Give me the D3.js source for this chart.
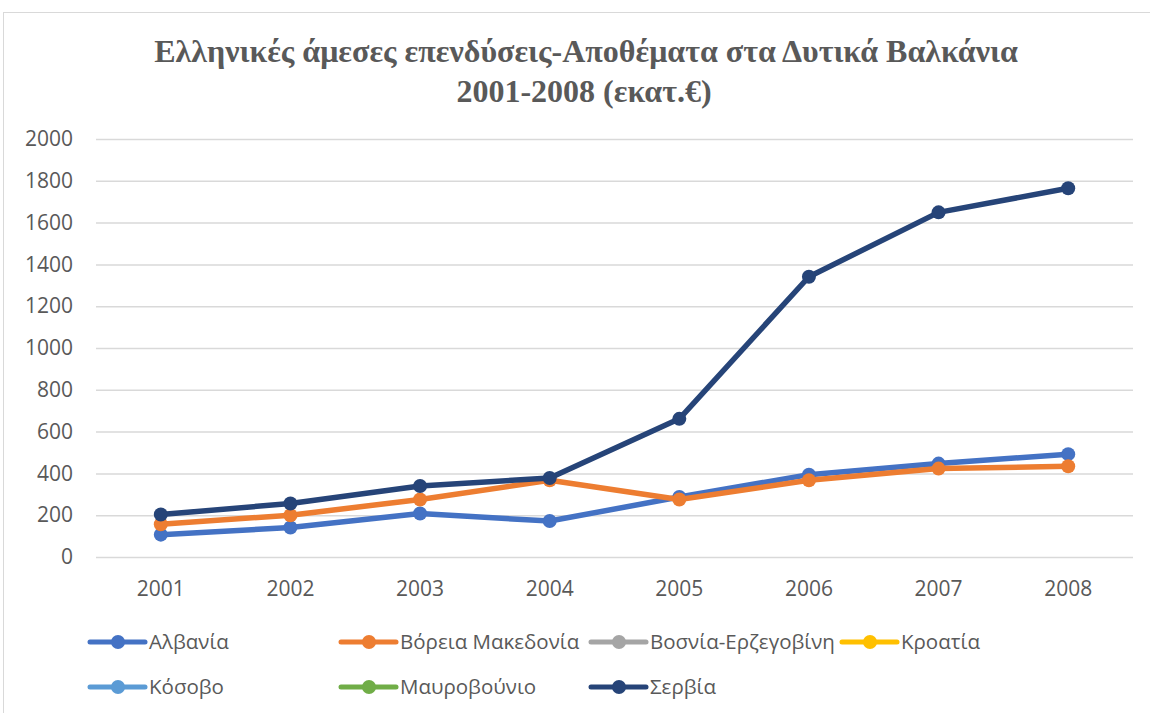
<!DOCTYPE html>
<html lang="el">
<head>
<meta charset="UTF-8">
<title>Ελληνικές άμεσες επενδύσεις</title>
<script src="https://cdn.jsdelivr.net/npm/d3@7"></script>
<style>
  body { margin: 0; background: #fff; }
  svg { display: block; }
  .tick text { font-family: "Open Sans", sans-serif; fill: #595959; }
</style>
</head>
<body>
<div id="chart"></div>
<script>
// data (εκατ. €)
const years = ["2001", "2002", "2003", "2004", "2005", "2006", "2007", "2008"];
const seriesNames = ["Αλβανία", "Βόρεια Μακεδονία", "Βοσνία-Ερζεγοβίνη", "Κροατία", "Κόσοβο", "Μαυροβούνιο", "Σερβία"];
const albania = [107, 141, 208, 172, 287, 394, 447, 492];
const northMacedonia = [157, 200, 275, 367, 275, 367, 423, 434];
const bosnia = [];
const croatia = [];
const kosovo = [];
const montenegro = [];
const serbia = [203, 256, 340, 378, 661, 1341, 1649, 1764];
const yTicks = [0, 200, 400, 600, 800, 1000, 1200, 1400, 1600, 1800, 2000];
const colors = ["#4472C4", "#ED7D31", "#A5A5A5", "#FFC000", "#5B9BD5", "#70AD47", "#264478"];

const W = 1150, H = 713;
const plot = {left: 96, right: 1133, top: 139, bottom: 557};

const svg = d3.select("#chart").append("svg")
  .attr("width", W).attr("height", H);

// chart frame
svg.append("rect")
  .attr("x", 3.5).attr("y", 12.5)
  .attr("width", W + 10).attr("height", H + 10)
  .attr("fill", "#fff").attr("stroke", "#d9d9d9");

// title
const title = svg.append("text")
  .attr("text-anchor", "middle")
  .attr("font-family", "'Liberation Serif', 'Times New Roman', serif")
  .attr("font-weight", "bold")
  .attr("font-size", 32)
  .attr("fill", "#595959");
title.append("tspan").attr("x", 586).attr("y", 62).text("Ελληνικές άμεσες επενδύσεις-Αποθέματα στα Δυτικά Βαλκάνια");
title.append("tspan").attr("x", 584).attr("y", 102).text("2001-2008 (εκατ.€)");

const x = d3.scaleBand().domain(years).range([plot.left, plot.right]).padding(0);
const y = d3.scaleLinear().domain([0, 2000]).range([plot.bottom, plot.top]);

// gridlines + y labels
const yAxis = svg.append("g")
  .attr("transform", `translate(${plot.left},0)`)
  .call(d3.axisLeft(y).tickValues(yTicks).tickFormat(d3.format("d"))
    .tickSize(-(plot.right - plot.left)).tickPadding(23));
yAxis.select(".domain").remove();
yAxis.selectAll(".tick line").attr("stroke", "#d9d9d9").attr("stroke-width", 1.5);
yAxis.selectAll(".tick text").attr("font-size", 21);

const xAxis = svg.append("g")
  .attr("transform", `translate(0,${plot.bottom})`)
  .call(d3.axisBottom(x).tickSize(0).tickPadding(24));
xAxis.select(".domain").remove();
xAxis.selectAll(".tick text").attr("font-size", 21);

// lines
const allSeries = [albania, northMacedonia, bosnia, croatia, kosovo, montenegro, serbia];
const line = d3.line()
  .x((d, i) => x(years[i]) + x.bandwidth() / 2)
  .y(d => y(d));

allSeries.forEach((vals, k) => {
  if (!vals.length) return;
  const g = svg.append("g");
  g.append("path")
    .datum(vals)
    .attr("fill", "none")
    .attr("stroke", colors[k])
    .attr("stroke-width", 5.5)
    .attr("stroke-linejoin", "round")
    .attr("d", line);
  g.selectAll("circle")
    .data(vals)
    .join("circle")
    .attr("cx", (d, i) => x(years[i]) + x.bandwidth() / 2)
    .attr("cy", d => y(d))
    .attr("r", 7)
    .attr("fill", colors[k]);
});

// legend
const legCols = [90, 341, 591, 842];
const legRows = [642, 687];
const leg = svg.append("g");
seriesNames.forEach((name, i) => {
  const lx = legCols[i % 4], ly = legRows[Math.floor(i / 4)];
  const item = leg.append("g").attr("transform", `translate(${lx},${ly})`);
  item.append("line")
    .attr("x1", 0).attr("x2", 55)
    .attr("stroke", colors[i]).attr("stroke-width", 5)
    .attr("stroke-linecap", "round");
  item.append("circle").attr("cx", 28).attr("r", 7).attr("fill", colors[i]);
  item.append("text")
    .attr("x", 59).attr("dy", "0.35em")
    .attr("font-family", "'Open Sans', sans-serif")
    .attr("font-size", 20.5)
    .attr("fill", "#595959")
    .text(name);
});
</script>
</body>
</html>
